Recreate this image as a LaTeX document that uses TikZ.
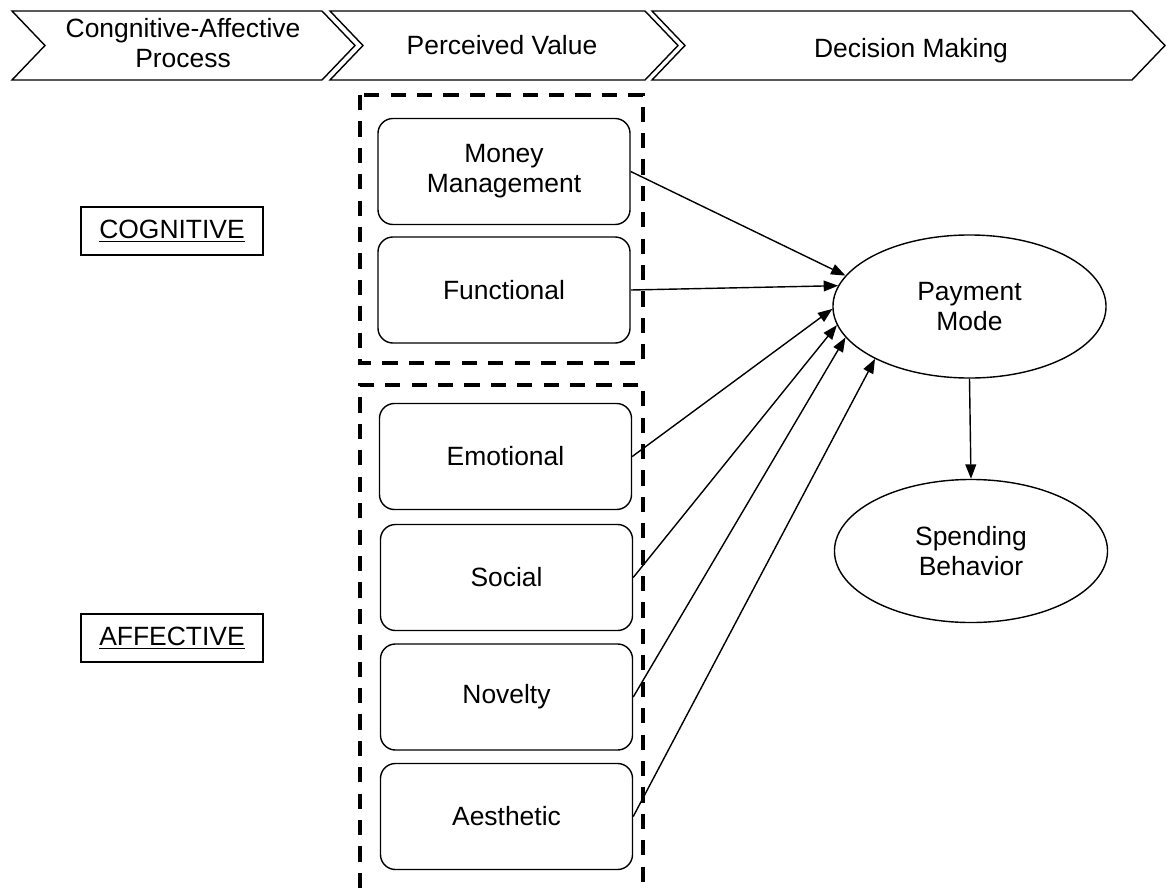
\documentclass[tikz,border=0pt]{standalone}
\usepackage{fontspec}
\setmainfont{Liberation Sans}
\usetikzlibrary{arrows.meta,shapes.geometric}

\begin{document}
\begin{tikzpicture}[x=0.025cm,y=-0.025cm,
    font=\fontsize{18.8}{21.5}\selectfont,
    stagearrow/.style={line width=1pt},
    groupbox/.style={line width=2.6pt,dash pattern=on 0.38cm off 0.28cm},
    valuebox/.style={draw,line width=1pt,rounded corners=0.375cm,minimum width=6.3cm,minimum height=2.65cm,align=center},
    processbox/.style={draw,line width=1pt,minimum width=4.55cm,minimum height=1.2cm},
    outcome/.style={draw,ellipse,line width=1pt,minimum width=6.825cm,minimum height=3.575cm,align=center},
    link/.style={line width=1pt,-{Triangle[length=0.36cm,width=0.27cm]}}]
    \useasboundingbox (0,0) rectangle (1166,888);
    \pgfmathsetmacro{\chevdepth}{33}
    % stages along the top
    \foreach \xl/\xr/\textx/\texty/\stagename/\stagetext in {12/322/183/43/process/{Congnitive-Affective\\Process},
        330/645/502/45/perceived/{Perceived Value}, 652/1132/911/51/decision/{Decision Making}} {
        \draw[stagearrow] (\xl,11) -- (\xr,11) -- (\xr+\chevdepth,45.5) -- (\xr,80) -- (\xl,80) -- (\xl+\chevdepth,45.5) -- cycle;
        \node[align=center] (\stagename) at (\textx,\texty) {\stagetext};
    }
    % dashed groups
    \draw[groupbox] (360,95) rectangle (643,363);
    \draw[groupbox] (360,888) -- (360,385) -- (643,385) -- (643,888);
    \node[processbox] (cognitive) at (172,231) {\underline{COGNITIVE}};
    \node[processbox] (affective) at (172,638) {\underline{AFFECTIVE}};
    % perceived values
    \node[valuebox] (money) at (504,171.5) {Money\\Management};
    \node[valuebox] (functional) at (504,290) {Functional};
    \node[valuebox] (emotional) at (505.5,456.5) {Emotional};
    \node[valuebox] (social) at (506.5,577.5) {Social};
    \node[valuebox] (novelty) at (506.5,697) {Novelty};
    \node[valuebox] (aesthetic) at (506.5,816.5) {Aesthetic};
    % decision making
    \node[outcome] (payment) at (969.5,306.5) {Payment\\Mode};
    \node[outcome] (spending) at (971,551) {Spending\\Behavior};
    \draw[link] (money.east) -- (payment.166);
    \draw[link] (functional.east) -- (payment.171);
    \draw[link] (emotional.east) -- (payment.181);
    \draw[link] (social.east) -- (payment.188);
    \draw[link] (novelty.east) -- (payment.194);
    \draw[link] (aesthetic.east) -- (payment.209);
    \draw[link] (payment.south) -- (spending.north);
\end{tikzpicture}
\end{document}
